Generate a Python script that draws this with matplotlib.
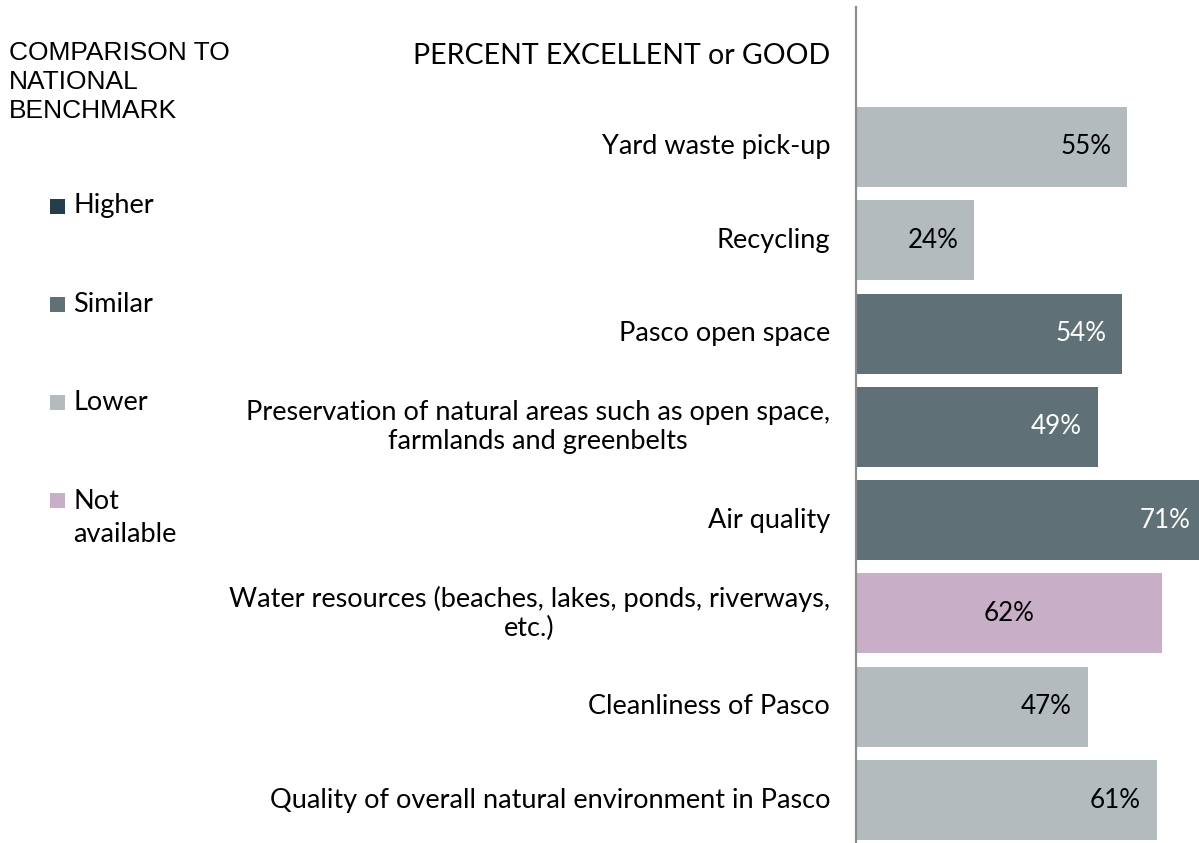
import matplotlib
matplotlib.use("Agg")
import matplotlib.pyplot as plt
from matplotlib.patches import Rectangle

categories = [
    "Yard waste pick-up",
    "Recycling",
    "Pasco open space",
    "Preservation of natural areas such as open space,\nfarmlands and greenbelts",
    "Air quality",
    "Water resources (beaches, lakes, ponds, riverways,\netc.)",
    "Cleanliness of Pasco",
    "Quality of overall natural environment in Pasco",
]
values = [55, 24, 54, 49, 71, 62, 47, 61]
comparison = ["Lower", "Lower", "Similar", "Similar", "Similar", "Not available", "Lower", "Lower"]
legend_labels = ["Higher", "Similar", "Lower", "Not\navailable"]
legend_keys = ["Higher", "Similar", "Lower", "Not available"]

colors = {
    "Higher": "#263e4c",
    "Similar": "#5f7177",
    "Lower": "#b3bbbe",
    "Not available": "#c9aec7",
}
text_colors = {"Higher": "white", "Similar": "white", "Lower": "black", "Not available": "black"}

W, H = 1199, 843
fig = plt.figure(figsize=(W / 100, H / 100), dpi=100)
FONT = "Lato"
FS = 19.5

ax = fig.add_axes([856 / W, 0, 343 / W, 1 - 7 / H])
ax.set_xlim(0, 343 / 4.93)
ax.set_ylim(7.46, -1.5)

ypos = list(range(len(categories)))
ax.barh(ypos, values, height=0.857, color=[colors[c] for c in comparison])

for y, v, c, lab in zip(ypos, values, comparison, categories):
    if c == "Not available":
        ax.text(v / 2, y, f"{v}%", ha="center", va="center", fontsize=18.7,
                family=FONT, color=text_colors[c])
    else:
        ax.annotate(f"{v}%", xy=(v, y), xytext=(-16, 0), textcoords="offset pixels",
                    ha="right", va="center", fontsize=18.7, family=FONT,
                    color=text_colors[c], annotation_clip=False)
    ax.text(-26 / 343, y, lab, transform=ax.get_yaxis_transform(), ha="right",
            va="center", multialignment="center", fontsize=FS, family=FONT,
            color="black", linespacing=1.17)

ax.text(-26 / 343, (56 - 147) / 93.3, "PERCENT EXCELLENT or GOOD",
        transform=ax.get_yaxis_transform(),
        ha="right", va="center", fontsize=20.5, family=FONT, color="black")

for s in ["top", "right", "bottom"]:
    ax.spines[s].set_visible(False)
ax.spines["left"].set_color("#8c8c8c")
ax.spines["left"].set_linewidth(1.6)
ax.set_xticks([])
ax.set_yticks([])

# legend title
fig.text(9 / W, 1 - 82 / H, "COMPARISON TO\nNATIONAL\nBENCHMARK", ha="left", va="center",
         fontsize=19, family="Liberation Sans", color="black", linespacing=1.27)

sq_y = [206.5, 304.5, 402.5, 500]
txt_y = [206, 304, 402, 518]
for sy, ty, key, lab in zip(sq_y, txt_y, legend_keys, legend_labels):
    fig.add_artist(Rectangle((50 / W, 1 - (sy + 7.5) / H), 15 / W, 15 / H,
                             transform=fig.transFigure, color=colors[key], lw=0))
    fig.text(73 / W, 1 - ty / H, lab, ha="left", va="center",
             fontsize=FS, family=FONT, color="black", linespacing=1.38)

fig.savefig("out.png", dpi=100)
